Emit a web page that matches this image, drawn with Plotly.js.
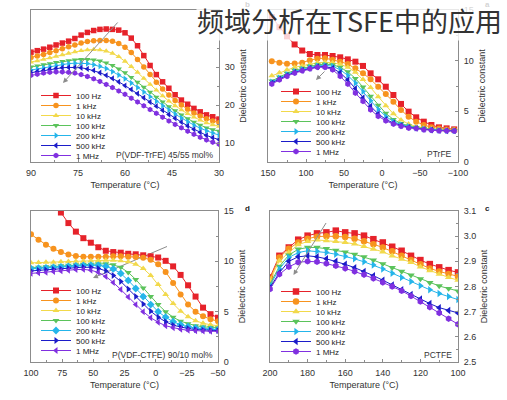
<!DOCTYPE html>
<html>
<head>
<meta charset="utf-8">
<script src="https://cdn.plot.ly/plotly-3.0.1.min.js"></script>
<style>
html,body{margin:0;padding:0;background:#fff;}
#chart{width:507px;height:400px;}
</style>
</head>
<body>
<div id="chart"></div>
<script>
// ---------- categories ----------
const FREQS = ['100 Hz', '1 kHz', '10 kHz', '100 kHz', '200 kHz', '500 kHz', '1 MHz'];
const TITLE = '频域分析在TSFE中的应用';
const MATERIALS = ['P(VDF-TrFE) 45/55 mol%', 'PTrFE', 'P(VDF-CTFE) 90/10 mol%', 'PCTFE'];
const PANEL_LETTERS = ['b', 'a', 'd', 'c'];
const TL_YTICKS = [10, 20, 30, 40];
const TL_YTICKTEXT = ['10', '20', '30', ''];

// ---------- temperatures (°C) ----------
const T_VDFTRFE = [90,88,86,84,82,80,78,76,74,72,70,68,66,64,62,60,58,56,54,52,50,48,46,44,42,40,38,36,34,32,30];
const T_PTRFE = [145,135,125,115,105,95,85,75,65,55,45,35,25,15,5,-5,-15,-25,-35,-45,-55,-65,-75,-85,-95];
const T_VDFCTFE = [100,94,88,82,76,70,64,58,52,46,40,34,28,22,16,10,4,-2,-8,-14,-20,-26,-32,-38,-44,-50];
const T_PCTFE = [200,195,190,185,180,175,170,165,160,155,150,145,140,135,130,125,120,115,110,105,100];

// ---------- P(VDF-TrFE) 45/55 mol% ----------
const tl100Hz  = [33.9,34.3,34.7,35.2,35.8,36.3,36.8,37.5,38.4,39.1,39.6,39.9,40.0,39.9,39.7,39.0,37.6,35.6,33.0,30.4,28.0,26.1,24.4,22.7,21.3,20.2,19.1,18.2,17.4,16.9,16.3];
const tl1kHz   = [32.5,32.9,33.3,33.8,34.3,34.8,35.3,35.8,36.3,36.7,36.9,37.0,37.0,36.8,36.2,35.2,33.8,32.0,30.0,28.0,26.0,24.2,22.6,21.2,20.0,18.9,17.9,17.1,16.4,15.8,15.3];
const tl10kHz  = [31.3,31.6,32.0,32.4,32.8,33.2,33.6,34.0,34.3,34.5,34.6,34.5,34.2,33.6,32.7,31.5,30.1,28.6,27.0,25.4,23.9,22.4,21.0,19.8,18.7,17.7,16.8,16.0,15.3,14.8,14.4];
const tl100kHz = [30.0,30.3,30.6,30.9,31.2,31.5,31.7,31.9,32.0,32.0,31.9,31.6,31.1,30.4,29.5,28.5,27.3,26.0,24.7,23.4,22.1,20.8,19.6,18.5,17.4,16.4,15.5,14.7,14.0,13.5,13.1];
const tl200kHz = [29.2,29.5,29.8,30.1,30.4,30.7,30.9,31.0,31.0,30.9,30.6,30.2,29.6,28.8,27.9,26.9,25.8,24.6,23.4,22.2,21.0,19.8,18.7,17.6,16.6,15.6,14.7,13.9,13.2,12.6,12.1];
const tl500kHz = [28.5,28.8,29.1,29.4,29.6,29.8,29.9,29.9,29.8,29.5,29.1,28.5,27.8,27.0,26.1,25.1,24.1,23.0,21.9,20.8,19.7,18.6,17.5,16.5,15.5,14.5,13.6,12.8,12.0,11.4,10.9];
const tl1MHz   = [27.8,28.1,28.4,28.6,28.7,28.7,28.6,28.4,28.0,27.5,26.9,26.2,25.4,24.6,23.7,22.8,21.8,20.8,19.8,18.8,17.8,16.8,15.8,14.9,14.0,13.1,12.3,11.5,10.8,10.2,9.7];

// ---------- PTrFE ----------
const tr100Hz  = [14.3,13.3,12.4,11.6,11.0,10.66,10.56,10.56,10.46,10.33,10.13,9.9,9.48,8.75,8.16,7.43,6.61,5.73,4.97,4.41,3.98,3.65,3.42,3.32,3.22];
const tr1kHz   = [9.95,9.8,9.7,9.72,9.8,10.05,10.2,10.25,10.1,9.9,9.67,9.25,8.75,8.16,7.43,6.71,5.95,5.13,4.47,3.98,3.65,3.42,3.3,3.2,3.15];
const tr10kHz  = [8.5,8.8,9.1,9.35,9.5,9.65,9.8,9.85,9.8,9.65,9.35,8.85,8.15,7.35,6.45,5.55,4.75,4.15,3.75,3.5,3.35,3.25,3.18,3.14,3.12];
const tr100kHz = [8.0,8.4,8.75,9.05,9.25,9.45,9.6,9.65,9.6,9.35,8.9,8.25,7.4,6.5,5.6,4.8,4.2,3.8,3.55,3.4,3.3,3.2,3.15,3.12,3.1];
const tr200kHz = [7.9,8.3,8.65,8.95,9.15,9.35,9.5,9.55,9.45,9.1,8.55,7.8,6.95,6.05,5.2,4.5,4.0,3.7,3.5,3.35,3.25,3.18,3.12,3.1,3.08];
const tr500kHz = [7.8,8.2,8.55,8.85,9.05,9.25,9.4,9.42,9.25,8.8,8.1,7.25,6.35,5.5,4.75,4.2,3.85,3.6,3.42,3.32,3.22,3.15,3.1,3.08,3.07];
const tr1MHz   = [7.7,8.12,8.46,8.79,9.0,9.2,9.35,9.35,9.11,8.46,7.7,6.81,5.99,5.16,4.51,4.08,3.75,3.52,3.36,3.3,3.19,3.13,3.09,3.08,3.07];

// ---------- P(VDF-CTFE) 90/10 mol% ----------
const bl100Hz  = [19.5,18.2,17.0,15.9,14.85,13.8,12.95,12.3,11.85,11.4,11.05,10.92,10.86,10.75,10.7,10.6,10.5,10.38,10.05,9.5,8.65,7.62,6.5,5.4,4.75,4.4];
const bl1kHz   = [12.68,12.15,11.65,11.25,10.92,10.68,10.52,10.45,10.45,10.45,10.45,10.5,10.5,10.45,10.42,10.35,10.15,9.7,8.95,7.85,6.7,5.7,5.0,4.55,4.25,4.05];
const bl10kHz  = [9.85,9.88,9.9,9.92,9.95,9.98,10.0,10.02,10.05,10.08,10.1,10.1,10.05,9.95,9.7,9.3,8.6,7.7,6.7,5.8,5.05,4.5,4.1,3.85,3.7,3.6];
const bl100kHz = [9.35,9.4,9.45,9.5,9.55,9.6,9.65,9.68,9.72,9.75,9.75,9.65,9.4,8.9,8.2,7.35,6.5,5.7,5.0,4.45,4.05,3.8,3.6,3.5,3.42,3.38];
const bl200kHz = [9.28,9.32,9.36,9.4,9.45,9.5,9.55,9.6,9.62,9.6,9.5,9.25,8.8,8.1,7.3,6.5,5.7,5.0,4.45,4.0,3.7,3.5,3.38,3.3,3.25,3.22];
const bl500kHz = [9.05,9.1,9.15,9.2,9.25,9.32,9.38,9.42,9.4,9.3,9.05,8.6,8.0,7.25,6.5,5.75,5.05,4.45,4.0,3.65,3.45,3.32,3.22,3.17,3.14,3.12];
const bl1MHz   = [8.8,8.85,8.9,8.98,9.05,9.12,9.18,9.2,9.12,8.9,8.5,7.9,7.2,6.45,5.7,5.0,4.4,3.95,3.6,3.4,3.25,3.15,3.1,3.07,3.05,3.04];

// ---------- PCTFE ----------
const br100Hz  = [2.836,2.922,2.955,2.986,3.002,3.011,3.015,3.022,3.015,3.011,3.002,2.988,2.975,2.958,2.942,2.922,2.905,2.889,2.876,2.865,2.856];
const br1kHz   = [2.83,2.915,2.95,2.975,2.99,2.998,3.0,3.0,2.997,2.99,2.98,2.968,2.955,2.94,2.922,2.905,2.888,2.872,2.86,2.85,2.84];
const br10kHz  = [2.825,2.902,2.935,2.966,2.979,2.985,2.982,2.979,2.975,2.969,2.959,2.949,2.938,2.922,2.909,2.896,2.878,2.863,2.849,2.836,2.825];
const br100kHz = [2.81,2.88,2.925,2.948,2.955,2.955,2.95,2.944,2.937,2.928,2.918,2.905,2.89,2.875,2.86,2.845,2.83,2.815,2.802,2.792,2.782];
const br200kHz = [2.805,2.87,2.915,2.935,2.942,2.94,2.935,2.928,2.92,2.91,2.898,2.885,2.87,2.853,2.836,2.82,2.803,2.787,2.772,2.76,2.748];
const br500kHz = [2.795,2.855,2.9,2.918,2.922,2.918,2.91,2.9,2.888,2.875,2.86,2.843,2.825,2.806,2.787,2.768,2.75,2.732,2.716,2.705,2.695];
const br1MHz   = [2.79,2.849,2.878,2.896,2.9,2.898,2.891,2.882,2.872,2.86,2.847,2.832,2.816,2.8,2.783,2.762,2.74,2.718,2.695,2.672,2.65];

// ---------- styles ----------
const COLORS = ['#e6222a', '#f7931e', '#f2d94b', '#5bc35b', '#25b5ea', '#1c1cc9', '#8030e0'];
const SYM_A = ['square', 'circle', 'triangle-up', 'triangle-down', 'triangle-right', 'triangle-left', 'hexagon'];
const SYM_B = ['square', 'circle', 'triangle-up', 'triangle-down', 'diamond', 'triangle-right', 'triangle-left'];
const FONT = 'Liberation Sans, Arial, sans-serif';
const W = 507, H = 400;
const px = v => v / W;
const py = v => 1 - v / H;

const traces = [];
function addPanel(xs, series, xa, ya, legendId, symbols, msize) {
  series.forEach((ys, i) => {
    traces.push({
      type: 'scatter', mode: 'lines+markers',
      x: xs, y: ys, xaxis: xa, yaxis: ya,
      name: FREQS[i], legend: legendId,
      line: {color: COLORS[i], width: 1},
      marker: {symbol: symbols[i], size: msize, color: COLORS[i], line: {width: 0}},
      cliponaxis: true, hoverinfo: 'skip'
    });
  });
}
addPanel(T_VDFTRFE, [tl100Hz, tl1kHz, tl10kHz, tl100kHz, tl200kHz, tl500kHz, tl1MHz], 'x', 'y', 'legend', SYM_A, 5.5);
addPanel(T_PTRFE, [tr100Hz, tr1kHz, tr10kHz, tr100kHz, tr200kHz, tr500kHz, tr1MHz], 'x2', 'y2', 'legend2', SYM_A, 6);
addPanel(T_VDFCTFE, [bl100Hz, bl1kHz, bl10kHz, bl100kHz, bl200kHz, bl500kHz, bl1MHz], 'x3', 'y3', 'legend3', SYM_B, 6);
addPanel(T_PCTFE, [br100Hz, br1kHz, br10kHz, br100kHz, br200kHz, br500kHz, br1MHz], 'x4', 'y4', 'legend4', SYM_A, 6.5);

const axBase = {
  showline: true, mirror: true, linecolor: '#8c8c8c', linewidth: 1,
  ticks: 'inside', ticklen: 3, tickcolor: '#8c8c8c', tickwidth: 1,
  tickfont: {family: FONT, size: 9, color: '#333'},
  showgrid: false, zeroline: false, fixedrange: true
};
function xAxis(dom, anchor, range, dtick) {
  return Object.assign({}, axBase, {
    domain: dom, anchor: anchor, range: range, dtick: dtick, tick0: 0,
    ticklabelstandoff: 2,
    minor: {dtick: dtick / 2, ticks: 'inside', ticklen: 2, tickcolor: '#8c8c8c'},
    title: {text: 'Temperature (°C)', font: {family: FONT, size: 9, color: '#333'}, standoff: 4}
  });
}
function yAxis(dom, anchor, range, dtick, fmt) {
  return Object.assign({}, axBase, {
    domain: dom, anchor: anchor, side: 'right', range: range, dtick: dtick, tick0: 0,
    tickformat: fmt || '', ticklabelstandoff: 3,
    minor: {dtick: dtick / 2, ticks: 'inside', ticklen: 2, tickcolor: '#8c8c8c'},
    title: {text: 'Dielectric constant', font: {family: FONT, size: 9, color: '#333'}, standoff: 5}
  });
}

const topDom = [py(162), py(10)];
const botDom = [py(362), py(211)];

const legBase = {
  bgcolor: 'rgba(0,0,0,0)', borderwidth: 0, xanchor: 'left', yanchor: 'top',
  font: {family: FONT, size: 8, color: '#222'}, itemwidth: 30, tracegroupgap: 0,
  itemclick: false, itemdoubleclick: false
};

const letterAnn = (t, x, y) => ({
  text: '<b>' + t + '</b>', xref: 'paper', yref: 'paper', x: px(x), y: py(y),
  xanchor: 'center', yanchor: 'middle', showarrow: false,
  font: {family: FONT, size: 8, color: '#222'}
});
const matAnn = (t, x, y) => ({
  text: t, xref: 'paper', yref: 'paper', x: px(x), y: py(y),
  xanchor: 'right', yanchor: 'middle', showarrow: false,
  font: {family: FONT, size: 8.5, color: '#333'}
});
const arrowAnn = (hx, hy, tx, ty) => ({
  text: '', xref: 'paper', yref: 'paper', x: px(hx), y: py(hy),
  ax: tx - hx, ay: ty - hy, showarrow: true, arrowhead: 2, arrowsize: 1,
  arrowwidth: 1, arrowcolor: '#8c8c8c', standoff: 0, startstandoff: 0
});

const yTL = yAxis(topDom, 'x', [5, 45], 10);
yTL.tickmode = 'array';
yTL.tickvals = TL_YTICKS;
yTL.ticktext = TL_YTICKTEXT;

const layout = {
  width: W, height: H,
  margin: {l: 0, r: 0, t: 0, b: 0, autoexpand: false},
  paper_bgcolor: '#fff', plot_bgcolor: '#fff',
  showlegend: true,
  xaxis: xAxis([px(31), px(219)], 'y', [90, 30], 15),
  yaxis: yTL,
  xaxis2: xAxis([px(268), px(458)], 'y2', [150, -100], 50),
  yaxis2: yAxis(topDom, 'x2', [0, 15], 5),
  xaxis3: xAxis([px(31), px(218)], 'y3', [100, -50], 25),
  yaxis3: yAxis(botDom, 'x3', [0, 15], 5),
  xaxis4: xAxis([px(270), px(458)], 'y4', [200, 100], 20),
  yaxis4: yAxis(botDom, 'x4', [2.5, 3.1], 0.1, '.1f'),
  legend:  Object.assign({}, legBase, {x: px(36), y: py(81)}),
  legend2: Object.assign({}, legBase, {x: px(276), y: py(77)}),
  legend3: Object.assign({}, legBase, {x: px(36), y: py(276)}),
  legend4: Object.assign({}, legBase, {x: px(276), y: py(277)}),
  shapes: [
    {type: 'line', xref: 'paper', yref: 'paper', x0: px(167), y0: py(246.5), x1: px(100), y1: py(275),
     line: {color: '#8c8c8c', width: 1}, layer: 'below'}
  ],
  annotations: [
    matAnn(MATERIALS[0], 215, 155),
    matAnn(MATERIALS[1], 454, 154),
    matAnn(MATERIALS[2], 215, 355),
    matAnn(MATERIALS[3], 454, 355),
    arrowAnn(63, 83, 119, 21),
    arrowAnn(316, 80, 326, 70),
    arrowAnn(93, 278, 102, 274),
    arrowAnn(293.5, 275, 327, 221.5),
    letterAnn(PANEL_LETTERS[0], 247, 5),
    letterAnn(PANEL_LETTERS[2], 247, 208),
    letterAnn(PANEL_LETTERS[3], 487, 208),
    letterAnn(PANEL_LETTERS[1], 487, 5),
    {
      text: TITLE, xref: 'paper', yref: 'paper', x: px(503), y: py(21),
      xanchor: 'right', yanchor: 'middle', showarrow: false,
      bgcolor: 'rgba(255,255,255,0.8)', borderpad: 0,
      font: {family: 'Noto Sans CJK SC, sans-serif', size: 27, color: '#333'}
    }
  ]
};

function compactLegends() {
  const SP = 10;
  ['legend', 'legend2', 'legend3', 'legend4'].forEach(id => {
    const g = document.querySelector('#chart g.' + id);
    if (!g) return;
    const items = g.querySelectorAll('g.traces');
    let y0 = null;
    items.forEach((it, i) => {
      const tr = it.getAttribute('transform') || '';
      const m = tr.match(/translate\(\s*([-\d.e]+)[ ,]+([-\d.e]+)\s*\)/);
      if (!m) return;
      const x = parseFloat(m[1]);
      if (y0 === null) y0 = parseFloat(m[2]);
      it.setAttribute('transform', 'translate(' + x + ',' + (y0 + i * SP) + ')');
    });
  });
}

Plotly.newPlot('chart', traces, layout, {staticPlot: true, displayModeBar: false}).then(compactLegends);
</script>
</body>
</html>
